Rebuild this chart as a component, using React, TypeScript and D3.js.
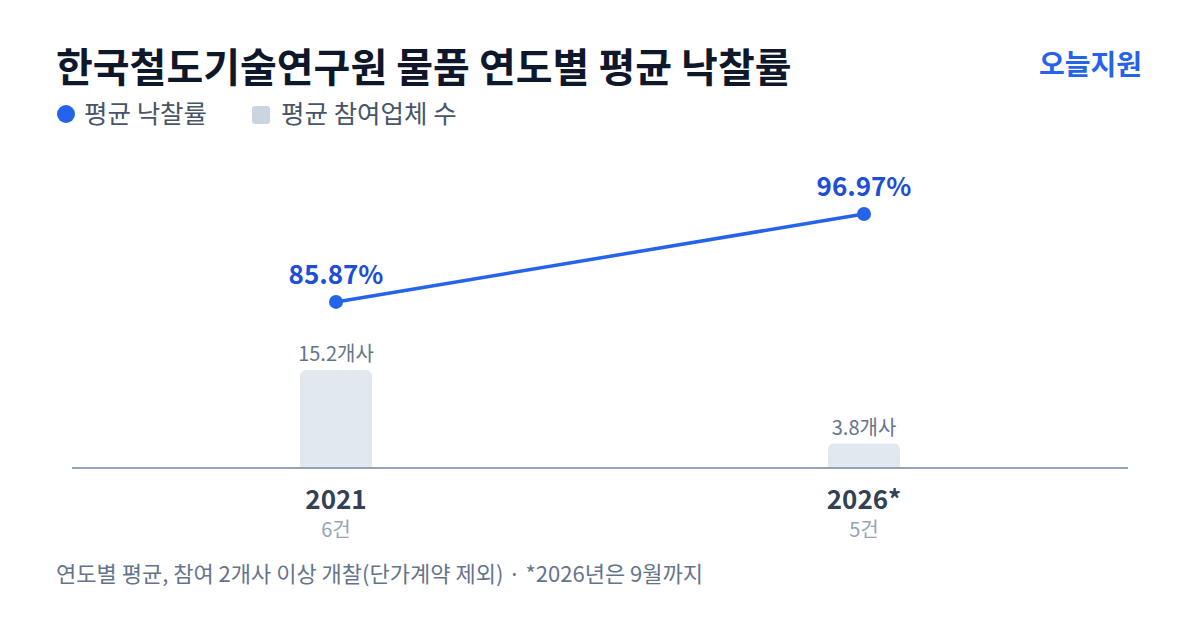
import { useRef, useEffect } from "react";
import * as d3 from "d3";

const years = ["2021", "2026*"];
const counts = ["6건", "5건"];
const winRates = [85.87, 96.97];
const bidders = [15.2, 3.8];

const FONT = "'Noto Sans CJK KR', 'Noto Sans', sans-serif";

const App = () => {
  const chartRef = useRef<SVGSVGElement | null>(null);

  useEffect(() => {
    document.body.style.margin = "0";
    const width = 1200;
    const height = 630;
    const svg = d3.select(chartRef.current).attr("width", width).attr("height", height).style("font-family", FONT);
    svg.selectAll("*").remove();

    svg.append("rect").attr("width", width).attr("height", height).attr("fill", "#ffffff");

    // title
    svg
      .append("text")
      .attr("x", 56)
      .attr("y", 82)
      .attr("font-size", 40)
      .attr("font-weight", 700)
      .attr("fill", "#0f172a")
      .text("한국철도기술연구원 물품 연도별 평균 낙찰률");

    svg
      .append("text")
      .attr("x", 1142)
      .attr("y", 75)
      .attr("text-anchor", "end")
      .attr("font-size", 28)
      .attr("font-weight", 700)
      .attr("fill", "#2563eb")
      .text("오늘지원");

    // legend
    const legend = svg.append("g");
    legend.append("circle").attr("cx", 66).attr("cy", 114).attr("r", 9).attr("fill", "#2563eb");
    legend
      .append("text")
      .attr("x", 84)
      .attr("y", 123)
      .attr("font-size", 25.5)
      .attr("fill", "#475569")
      .text("평균 낙찰률");
    legend
      .append("rect")
      .attr("x", 252)
      .attr("y", 106)
      .attr("width", 18)
      .attr("height", 18)
      .attr("rx", 3)
      .attr("fill", "#cbd5e1");
    legend
      .append("text")
      .attr("x", 281)
      .attr("y", 123)
      .attr("font-size", 25.5)
      .attr("fill", "#475569")
      .text("평균 참여업체 수");

    const baseline = 468;
    const x = d3.scalePoint<string>().domain(years).range([72, 1128]).padding(0.5);
    const yBar = d3.scaleLinear().domain([0, 15.2]).range([baseline, 370]);
    const yLine = d3.scaleLinear().domain([75, 100]).range([388, 190]);
    const barW = 72;

    const data = years.map((yr, i) => ({ yr, count: counts[i], rate: winRates[i], bid: bidders[i] }));

    // bars
    svg
      .append("g")
      .selectAll("rect")
      .data(data)
      .enter()
      .append("rect")
      .attr("x", d => (x(d.yr) as number) - barW / 2)
      .attr("y", d => yBar(d.bid))
      .attr("width", barW)
      .attr("height", d => baseline - yBar(d.bid) + 6)
      .attr("rx", 6)
      .attr("fill", "#e2e8f0");

    svg
      .append("g")
      .selectAll("text")
      .data(data)
      .enter()
      .append("text")
      .attr("x", d => x(d.yr) as number)
      .attr("y", d => yBar(d.bid) - 9)
      .attr("text-anchor", "middle")
      .attr("font-size", 20)
      .attr("fill", "#64748b")
      .text(d => `${d.bid}개사`);

    // cover bottom rounding below baseline
    svg.append("rect").attr("x", 0).attr("y", baseline).attr("width", width).attr("height", 8).attr("fill", "#ffffff");

    // axis
    svg
      .append("line")
      .attr("x1", 72)
      .attr("x2", 1128)
      .attr("y1", baseline)
      .attr("y2", baseline)
      .attr("stroke", "#94a3b8")
      .attr("stroke-width", 2);

    svg
      .append("g")
      .selectAll("text")
      .data(data)
      .enter()
      .append("text")
      .attr("x", d => x(d.yr) as number)
      .attr("y", 509)
      .attr("text-anchor", "middle")
      .attr("font-size", 26)
      .attr("font-weight", 700)
      .attr("fill", "#334155")
      .text(d => d.yr);

    svg
      .append("g")
      .selectAll("text")
      .data(data)
      .enter()
      .append("text")
      .attr("x", d => x(d.yr) as number)
      .attr("y", 537)
      .attr("text-anchor", "middle")
      .attr("font-size", 20)
      .attr("fill", "#94a3b8")
      .text(d => d.count);

    // line
    const line = d3
      .line<(typeof data)[number]>()
      .x(d => x(d.yr) as number)
      .y(d => yLine(d.rate));
    svg
      .append("path")
      .datum(data)
      .attr("d", line)
      .attr("fill", "none")
      .attr("stroke", "#2563eb")
      .attr("stroke-width", 3.5);

    svg
      .append("g")
      .selectAll("circle")
      .data(data)
      .enter()
      .append("circle")
      .attr("cx", d => x(d.yr) as number)
      .attr("cy", d => yLine(d.rate))
      .attr("r", 7)
      .attr("fill", "#2563eb");

    svg
      .append("g")
      .selectAll("text")
      .data(data)
      .enter()
      .append("text")
      .attr("x", d => x(d.yr) as number)
      .attr("y", d => yLine(d.rate) - 18)
      .attr("text-anchor", "middle")
      .attr("font-size", 26)
      .attr("font-weight", 700)
      .attr("fill", "#1d4ed8")
      .text(d => `${d.rate.toFixed(2)}%`);

    // footer
    svg
      .append("text")
      .attr("x", 56)
      .attr("y", 582)
      .attr("font-size", 22)
      .attr("fill", "#64748b")
      .text("연도별 평균, 참여 2개사 이상 개찰(단가계약 제외) · *2026년은 9월까지");
  }, []);

  return <svg ref={chartRef} style={{ display: "block" }}></svg>;
};

export default App;
